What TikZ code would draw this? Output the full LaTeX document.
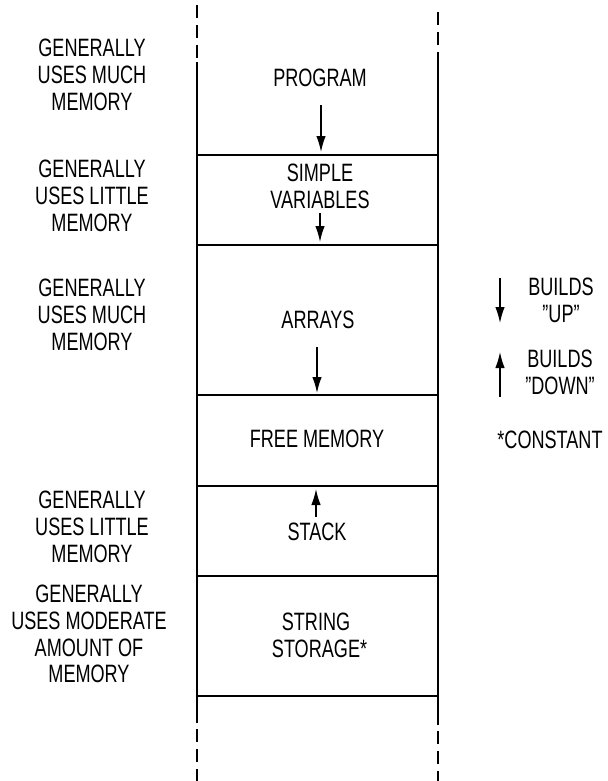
\documentclass[tikz,border=0pt]{standalone}
\usepackage{fontspec}
\setmainfont{Liberation Sans}[FakeStretch=0.72]
\usetikzlibrary{arrows.meta}

\begin{document}
\begin{tikzpicture}[x=0.02cm,y=-0.02cm,
		every node/.style={inner sep=0pt, align=center,
			font=\fontsize{14.3}{15.3}\selectfont},
		wall/.style={line width=1.1pt},
		growth/.style={line width=0.8pt, -{Latex[length=0.32cm,width=0.19cm]}}]
	\useasboundingbox (0,0) rectangle (608,781);
	%% the memory column
	\draw[wall] (197,62) coordinate(Lt) -- (197,723) coordinate(Lb);
	\draw[wall] (438,62) coordinate(Rt) -- (438,725) coordinate(Rb);
	\draw[wall, dash pattern=on 0.26cm off 0.14cm] (197,5) -- (Lt);
	\draw[wall, dash pattern=on 0.26cm off 0.14cm] (438,12) -- (Rt);
	\draw[wall, dash pattern=on 0.26cm off 0.14cm] (Lb) ++(0,6) -- (197,781);
	\draw[wall, dash pattern=on 0.26cm off 0.14cm] (Rb) ++(0,6) -- (438,781);
	\draw[wall] (197,155) -- (438,155);
	\draw[wall] (197,245) -- (438,245);
	\draw[wall] (197,395) -- (438,395);
	\draw[wall] (197,486) -- (438,486);
	\draw[wall] (197,576) -- (438,576);
	\draw[wall] (197,696) -- (438,696);
	%% what lives in it
	\node (program) at (320,78) {PROGRAM};
	\node (simple) at (320,186) {SIMPLE\\VARIABLES};
	\node (arrays) at (318,320) {ARRAYS};
	\node (free) at (317,439) {FREE MEMORY};
	\node (stack) at (317,532) {STACK};
	\node (string) at (316,635) {STRING\\STORAGE\rlap{*}};
	\draw[growth] (321,105) coordinate(P1) -- (321,152) coordinate(P2);
	\draw[growth] (320,213) coordinate(V1) -- (320,242) coordinate(V2);
	\draw[growth] (317,347) coordinate(A1) -- (317,393) coordinate(A2);
	\draw[growth] (316,517) coordinate(S1) -- (316,489) coordinate(S2);
	%% how much each one uses
	\node (useA) at (92,75) {GENERALLY\\USES MUCH\\MEMORY};
	\node (useB) at (92,196) {GENERALLY\\USES LITTLE\\MEMORY};
	\node (useC) at (92,315) {GENERALLY\\USES MUCH\\MEMORY};
	\node (useD) at (92,527) {GENERALLY\\USES LITTLE\\MEMORY};
	\node (useE) at (89,634) {GENERALLY\\USES MODERATE\\AMOUNT OF\\MEMORY};
	%% key
	\draw[growth] (500,278) coordinate(K1) -- (500,323) coordinate(K2);
	\node (up) at (561,300) {BUILDS\\"UP"};
	\draw[growth] (500,397) coordinate(K3) -- (500,352) coordinate(K4);
	\node (down) at (560,372) {BUILDS\\"DOWN"};
	\node (const) at (550,440) {*CONSTANT};
\end{tikzpicture}
\end{document}
